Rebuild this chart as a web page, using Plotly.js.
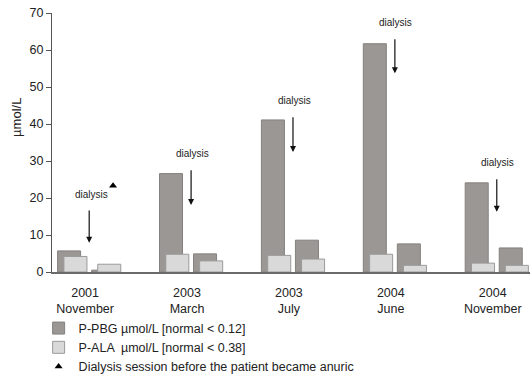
<!DOCTYPE html>
<html>
<head>
<meta charset="utf-8">
<script src="https://cdn.plot.ly/plotly-3.0.1.min.js"></script>
<style>html,body{margin:0;padding:0;background:#fff;}#chart{width:530px;height:382px;}</style>
</head>
<body>
<div id="chart"></div>
<script>
// ---- data ----
const groups = ["2001<br>November", "2003<br>March", "2003<br>July", "2004<br>June", "2004<br>November"];
const pbgBefore = [5.7, 26.6, 41.1, 61.7, 24.1];
const alaBefore = [4.2, 4.8, 4.5, 4.8, 2.4];
const pbgAfter  = [0.5, 4.9, 8.6, 7.6, 6.5];
const alaAfter  = [2.1, 3.0, 3.5, 1.8, 1.8];
const arrowFrom = [17.0, 27.9, 42.2, 63.3, 25.5];
const arrowTo   = [7.9, 18.1, 32.4, 53.7, 16.3];
const anuricGroup = [0];
const anuricValue = [23.3];
const legendNames = ["P-PBG µmol/L [normal < 0.12]", "P-ALA  µmol/L [normal < 0.38]", "Dialysis session before the patient became anuric"];

// ---- layout helpers ----
const idx = groups.map((g, i) => i);
const offDark1 = -0.197, offLight1 = -0.135, offDark2 = 0.137, offLight2 = 0.197;
const barW = 0.226;

const pbgTrace = {
  type: 'bar', name: legendNames[0],
  x: idx.map(i => i + offDark1).concat(idx.map(i => i + offDark2)),
  y: pbgBefore.concat(pbgAfter),
  width: barW,
  marker: {color: '#9b9794', line: {color: '#85817f', width: 1}},
  hoverinfo: 'y'
};
const alaTrace = {
  type: 'bar', name: legendNames[1],
  x: idx.map(i => i + offLight1).concat(idx.map(i => i + offLight2)),
  y: alaBefore.concat(alaAfter),
  width: barW,
  marker: {color: '#d9d9d9', line: {color: '#9a9a9a', width: 1}},
  hoverinfo: 'y'
};
const anuricTrace = {
  type: 'scatter', mode: 'markers', name: legendNames[2],
  x: anuricGroup.map(i => i + 0.234), y: anuricValue,
  marker: {symbol: 'triangle-up', size: 7, color: '#000'},
  hoverinfo: 'skip'
};

const annotations = [];
idx.forEach(i => {
  annotations.push({
    x: i, y: arrowTo[i], ax: i, ay: arrowFrom[i], axref: 'x', ayref: 'y', xref: 'x', yref: 'y',
    text: '', showarrow: true, arrowhead: 2, arrowsize: 1, arrowwidth: 1.2, arrowcolor: '#111'
  });
  annotations.push({
    x: i + (i === 0 ? 0.02 : 0.01), y: arrowFrom[i], xref: 'x', yref: 'y', yshift: 15,
    text: 'dialysis', showarrow: false, font: {size: 10, color: '#222'}
  });
});
annotations.push({
  xref: 'paper', yref: 'paper', x: -0.0732, y: 0.595, xanchor: 'center', yanchor: 'middle',
  text: 'µmol/L', textangle: -90,
  showarrow: false, font: {size: 13, color: '#222'}
});

const layout = {
  width: 530, height: 382,
  margin: {l: 52, r: 0, t: 13, b: 110},
  paper_bgcolor: '#fff', plot_bgcolor: '#fff',
  font: {family: 'Liberation Sans, Arial, sans-serif', color: '#222', size: 12},
  barmode: 'overlay',
  showlegend: true,
  legend: {x: -0.028, y: -0.16, xanchor: 'left', yanchor: 'top', font: {size: 12.5, color: '#222'},
           bgcolor: 'rgba(0,0,0,0)', tracegroupgap: 0, itemwidth: 30},
  xaxis: {
    range: [-0.365, 4.326], tickvals: idx.map(i => i - 0.04), ticktext: groups,
    showline: true, linecolor: '#6a6a6a', linewidth: 1.5, ticks: '', showgrid: false, zeroline: false,
    ticklabelstandoff: 8, tickfont: {size: 12.5, color: '#222'}, fixedrange: true
  },
  yaxis: {
    range: [0, 70], dtick: 10, showline: true, linecolor: '#555', linewidth: 1,
    ticks: 'outside', ticklen: 5, tickcolor: '#555', showgrid: false, zeroline: false,
    tickfont: {size: 12.5, color: '#222'}, fixedrange: true
  },
  annotations: annotations
};

Plotly.newPlot('chart', [pbgTrace, alaTrace, anuricTrace], layout, {displayModeBar: false, staticPlot: true});
</script>
</body>
</html>
